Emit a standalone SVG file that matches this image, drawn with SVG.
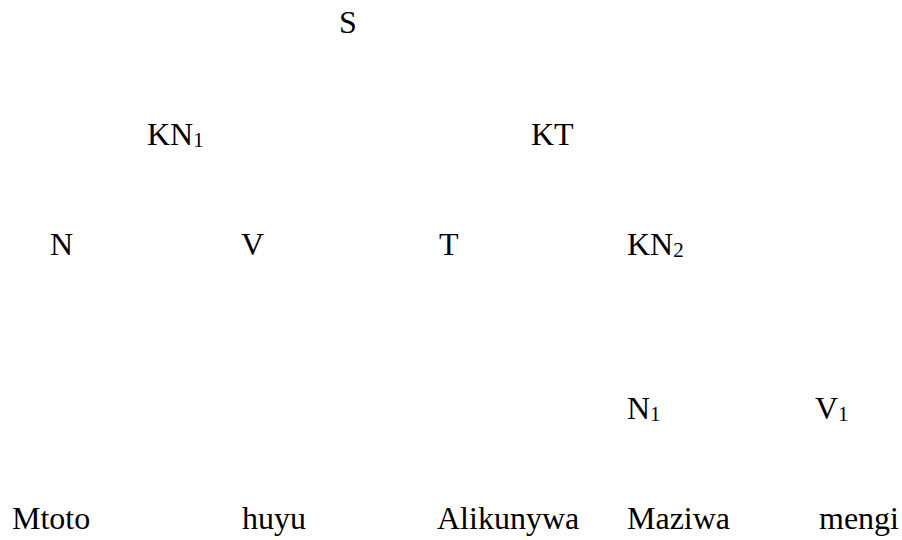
<svg xmlns="http://www.w3.org/2000/svg" width="902" height="540" viewBox="0 0 902 540">
<style>
.t{font-family:"Liberation Serif",serif;font-size:32px;fill:#000}
.sub{font-size:21px}
</style>
<rect width="902" height="540" fill="#fff"/>
<g id="connectors"></g>
<g id="n-S"><text class="t" x="339" y="33">S</text></g>
<g id="n-KN1"><text class="t" x="147" y="145">KN<tspan class="sub" dy="2">1</tspan></text></g>
<g id="n-KT"><text class="t" x="531" y="145">KT</text></g>
<g id="n-N"><text class="t" x="50" y="255">N</text></g>
<g id="n-V"><text class="t" x="241" y="255">V</text></g>
<g id="n-T"><text class="t" x="439" y="255">T</text></g>
<g id="n-KN2"><text class="t" x="627" y="255">KN<tspan class="sub" dy="2">2</tspan></text></g>
<g id="n-N1"><text class="t" x="627" y="419">N<tspan class="sub" dy="2">1</tspan></text></g>
<g id="n-V1"><text class="t" x="815" y="419">V<tspan class="sub" dy="2">1</tspan></text></g>
<g id="w-Mtoto"><text class="t" x="12" y="529">Mtoto</text></g>
<g id="w-huyu"><text class="t" x="242" y="529">huyu</text></g>
<g id="w-Alikunywa"><text class="t" x="437" y="529">Alikunywa</text></g>
<g id="w-Maziwa"><text class="t" x="627" y="529">Maziwa</text></g>
<g id="w-mengi"><text class="t" x="819" y="529">mengi</text></g>
</svg>
